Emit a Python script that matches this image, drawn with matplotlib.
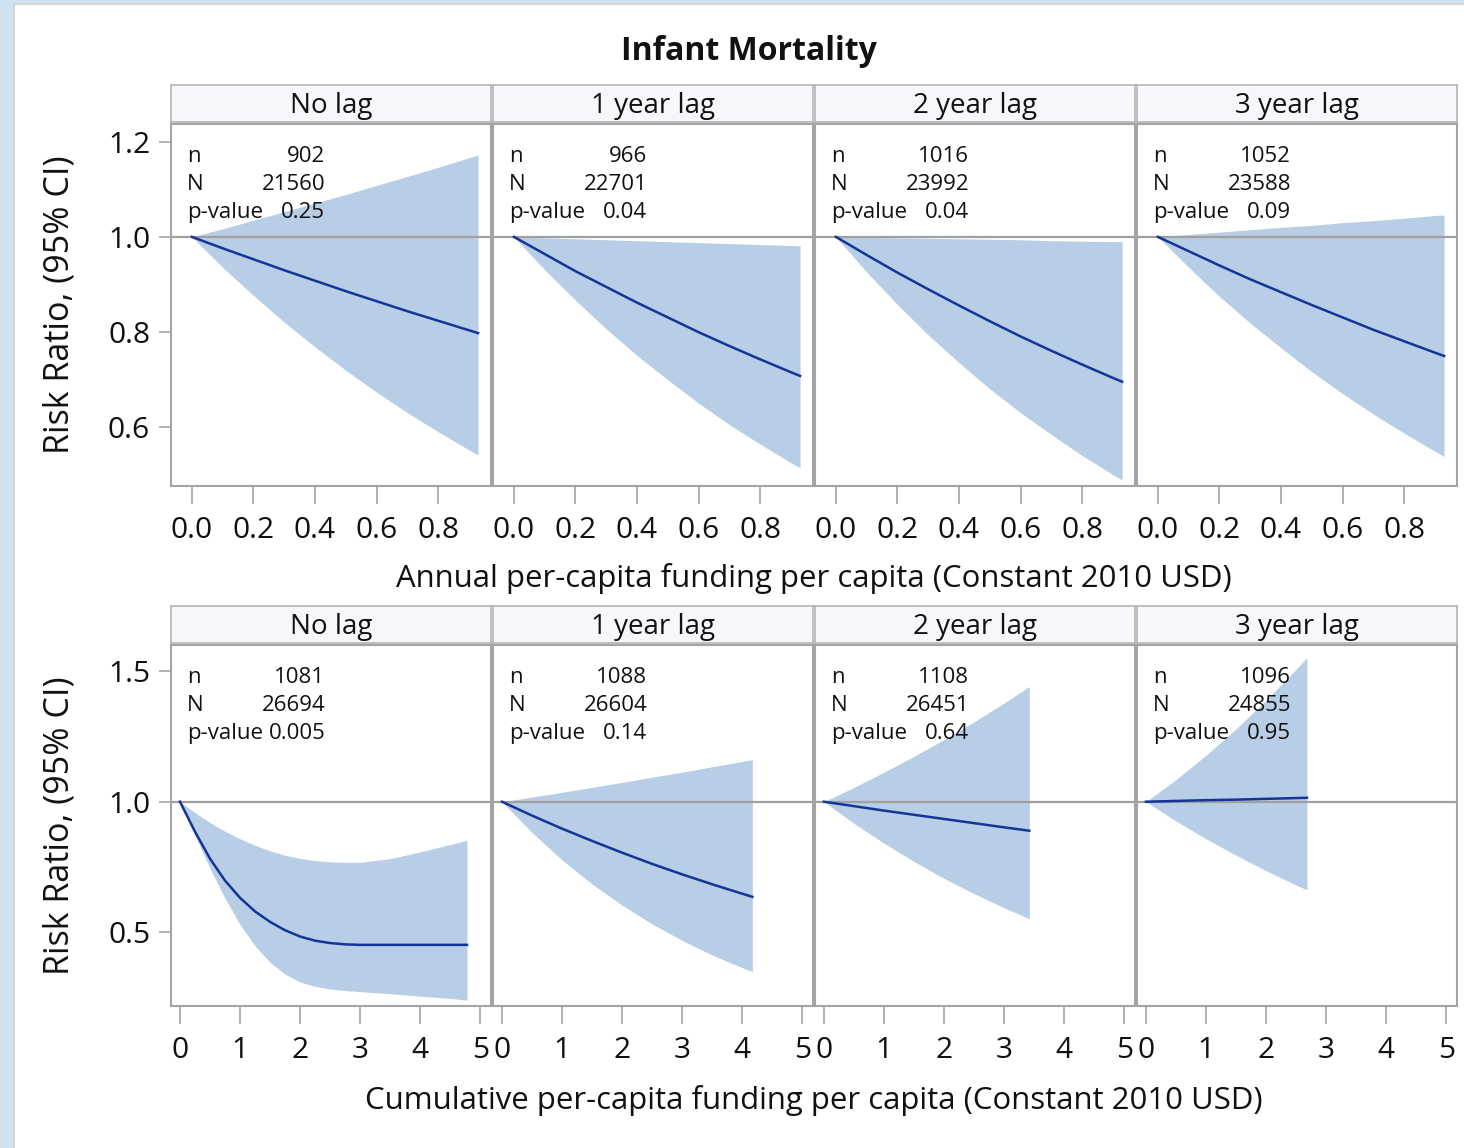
import matplotlib
matplotlib.use("Agg")
import matplotlib.pyplot as plt
from matplotlib.patches import Rectangle

plt.rcParams['font.family'] = ['Open Sans', 'DejaVu Sans']

# ===============================
# data
# ===============================
lag_titles = ["No lag", "1 year lag", "2 year lag", "3 year lag"]

# top row: annual funding
annual_n = ["902", "966", "1016", "1052"]
annual_N = ["21560", "22701", "23992", "23588"]
annual_p = ["0.25", "0.04", "0.04", "0.09"]
annual_x = [0.0, 0.1, 0.2, 0.3, 0.4, 0.5, 0.6, 0.7, 0.8, 0.9, 0.93]
annual_rr = [
    [1.0, 0.976, 0.953, 0.930, 0.908, 0.886, 0.865, 0.844, 0.824, 0.804, 0.798],
    [1.0, 0.964, 0.928, 0.895, 0.862, 0.831, 0.800, 0.771, 0.743, 0.716, 0.708],
    [1.0, 0.962, 0.925, 0.890, 0.856, 0.823, 0.791, 0.761, 0.732, 0.704, 0.696],
    [1.0, 0.970, 0.940, 0.911, 0.884, 0.857, 0.831, 0.805, 0.781, 0.757, 0.750],
]
annual_lo = [
    [1.0, 0.936, 0.877, 0.821, 0.769, 0.720, 0.674, 0.631, 0.591, 0.553, 0.542],
    [1.0, 0.931, 0.867, 0.807, 0.751, 0.700, 0.651, 0.606, 0.565, 0.526, 0.515],
    [1.0, 0.926, 0.858, 0.794, 0.736, 0.681, 0.631, 0.585, 0.541, 0.501, 0.490],
    [1.0, 0.936, 0.875, 0.819, 0.767, 0.717, 0.671, 0.628, 0.588, 0.550, 0.539],
]
annual_up = [
    [1.0, 1.017, 1.035, 1.053, 1.071, 1.089, 1.108, 1.127, 1.146, 1.166, 1.172],
    [1.0, 0.998, 0.996, 0.994, 0.992, 0.990, 0.988, 0.986, 0.984, 0.982, 0.981],
    [1.0, 0.999, 0.998, 0.997, 0.996, 0.995, 0.994, 0.992, 0.991, 0.990, 0.990],
    [1.0, 1.005, 1.010, 1.015, 1.020, 1.024, 1.030, 1.034, 1.039, 1.045, 1.046],
]

# bottom row: cumulative funding
cum_n = ["1081", "1088", "1108", "1096"]
cum_N = ["26694", "26604", "26451", "24855"]
cum_p = ["0.005", "0.14", "0.64", "0.95"]
cum_x = [
    [0, 0.25, 0.5, 0.75, 1.0, 1.25, 1.5, 1.75, 2.0, 2.25, 2.5, 2.75, 3.0, 3.5, 4.0, 4.5, 4.78],
    [0, 0.5, 1.0, 1.5, 2.0, 2.5, 3.0, 3.5, 4.0, 4.17],
    [0, 0.5, 1.0, 1.5, 2.0, 2.5, 3.0, 3.42],
    [0, 0.5, 1.0, 1.5, 2.0, 2.5, 2.68],
]
cum_rr = [
    [1.0, 0.885, 0.782, 0.698, 0.632, 0.580, 0.540, 0.508, 0.484, 0.468, 0.459, 0.454, 0.452, 0.452, 0.452, 0.452, 0.452],
    [1.0, 0.947, 0.897, 0.850, 0.805, 0.762, 0.722, 0.684, 0.648, 0.636],
    [1.0, 0.983, 0.966, 0.950, 0.934, 0.918, 0.902, 0.889],
    [1.0, 1.003, 1.006, 1.008, 1.011, 1.014, 1.015],
]
cum_lo = [
    [1.0, 0.870, 0.745, 0.630, 0.530, 0.448, 0.385, 0.340, 0.310, 0.293, 0.283, 0.277, 0.273, 0.265, 0.256, 0.247, 0.240],
    [1.0, 0.882, 0.777, 0.685, 0.604, 0.532, 0.469, 0.413, 0.365, 0.349],
    [1.0, 0.917, 0.841, 0.771, 0.706, 0.648, 0.594, 0.552],
    [1.0, 0.926, 0.858, 0.795, 0.736, 0.681, 0.663],
]
cum_up = [
    [1.0, 0.958, 0.920, 0.887, 0.858, 0.833, 0.812, 0.795, 0.783, 0.775, 0.770, 0.768, 0.768, 0.782, 0.808, 0.836, 0.852],
    [1.0, 1.018, 1.036, 1.055, 1.074, 1.094, 1.113, 1.134, 1.154, 1.161],
    [1.0, 1.055, 1.113, 1.174, 1.238, 1.306, 1.378, 1.441],
    [1.0, 1.085, 1.178, 1.279, 1.388, 1.507, 1.552],
]

annual_ticks = [0.0, 0.2, 0.4, 0.6, 0.8]
annual_yticks = [0.6, 0.8, 1.0, 1.2]
cum_ticks = [0, 1, 2, 3, 4, 5]
cum_yticks = [0.5, 1.0, 1.5]

# ===============================
# style
# ===============================
W, H = 1464, 1148
FILL = "#b8cde6"
LINE = "#13359a"
GRAY = "#a4a4a4"
REF = "#a0a0a0"
TXT = "#111111"

fig = plt.figure(figsize=(W / 100, H / 100), dpi=100)
fig.patch.set_facecolor("#cfe2f2")
fig.add_artist(Rectangle((14 / W, -0.01), 1.1, 1 - 4 / H + 0.01,
                         transform=fig.transFigure, facecolor="white",
                         edgecolor="#d4d4d4", lw=1.5, zorder=0))

lefts = [171, 493, 815, 1137]
pw = 320


def px_box(x0, y0, w, h):
    return [x0 / W, 1 - (y0 + h) / H, w / W, h / H]


def draw_row(y_head, y_plot, h_plot, xs, rrs, los, ups, ns, Ns, ps,
             xlim, ylim, xticks, yticks, fmt, xlabel):
    for i in range(4):
        # header strip
        hax = fig.add_axes(px_box(lefts[i], y_head, pw, 37))
        hax.set_facecolor("#f6f7fc")
        hax.set_xticks([])
        hax.set_yticks([])
        for sp in hax.spines.values():
            sp.set_color("#b4b4b4")
            sp.set_linewidth(1.2)
        hax.text(0.5, 0.42, lag_titles[i], ha="center", va="center",
                 fontsize=20, color=TXT, transform=hax.transAxes)

        ax = fig.add_axes(px_box(lefts[i], y_plot, pw, h_plot))
        x = xs[i] if isinstance(xs[0], list) else xs
        ax.fill_between(x, los[i], ups[i], color=FILL, lw=0, zorder=1)
        ax.axhline(1.0, color=REF, lw=1.6, zorder=2)
        ax.plot(x, rrs[i], color=LINE, lw=1.8, zorder=3)
        ax.set_xlim(*xlim)
        ax.set_ylim(*ylim)
        ax.set_xticks(xticks)
        ax.set_xticklabels([fmt(t) for t in xticks])
        ax.set_yticks(yticks)
        ax.tick_params(axis="x", direction="out", length=13, width=1.2,
                       color=GRAY, labelsize=21.5, pad=8.5, labelcolor=TXT)
        if i == 0:
            ax.set_yticklabels([f"{t:.1f}" for t in yticks])
            ax.tick_params(axis="y", direction="out", length=9, width=1.2,
                           color=GRAY, labelsize=21.5, pad=6, labelcolor=TXT)
            fig.text(60 / W, 1 - (y_plot + h_plot / 2) / H,
                     "Risk Ratio, (95% CI)", rotation=90, ha="center",
                     va="center", fontsize=24.5, color=TXT)
        else:
            ax.tick_params(axis="y", left=False, labelleft=False)
        for sp in ax.spines.values():
            sp.set_color(GRAY)
            sp.set_linewidth(1.5)

        # inset statistics
        tx = ax.transAxes
        for row, (lab, val) in enumerate(zip(["n", "N", "p-value"],
                                             [ns[i], Ns[i], ps[i]])):
            yy = 0.910 - row * 0.077
            ax.text(0.05, yy, lab, ha="left", va="center", fontsize=16,
                    color=TXT, transform=tx, zorder=4)
            ax.text(0.482, yy, val, ha="right", va="center", fontsize=16,
                    color=TXT, transform=tx, zorder=4)

    fig.text(814 / W, 1 - xlabel[1] / H, xlabel[0], ha="center",
             va="center", fontsize=22.4, color=TXT)


draw_row(85, 124, 362, annual_x, annual_rr, annual_lo, annual_up,
         annual_n, annual_N, annual_p,
         (-0.068, 0.972), (0.477, 1.237), annual_ticks, annual_yticks,
         lambda t: f"{t:.1f}",
         ("Annual per-capita funding per capita (Constant 2010 USD)", 579))

draw_row(606, 645, 361, cum_x, cum_rr, cum_lo, cum_up,
         cum_n, cum_N, cum_p,
         (-0.15, 5.18), (0.218, 1.60), cum_ticks, cum_yticks,
         lambda t: f"{t:d}",
         ("Cumulative per-capita funding per capita (Constant 2010 USD)", 1100))

fig.text(749 / W, 1 - 52 / H, "Infant Mortality", ha="center", va="center",
         fontsize=23, fontweight="bold", color=TXT)

fig.savefig("out.png", dpi=100, facecolor=fig.get_facecolor())
